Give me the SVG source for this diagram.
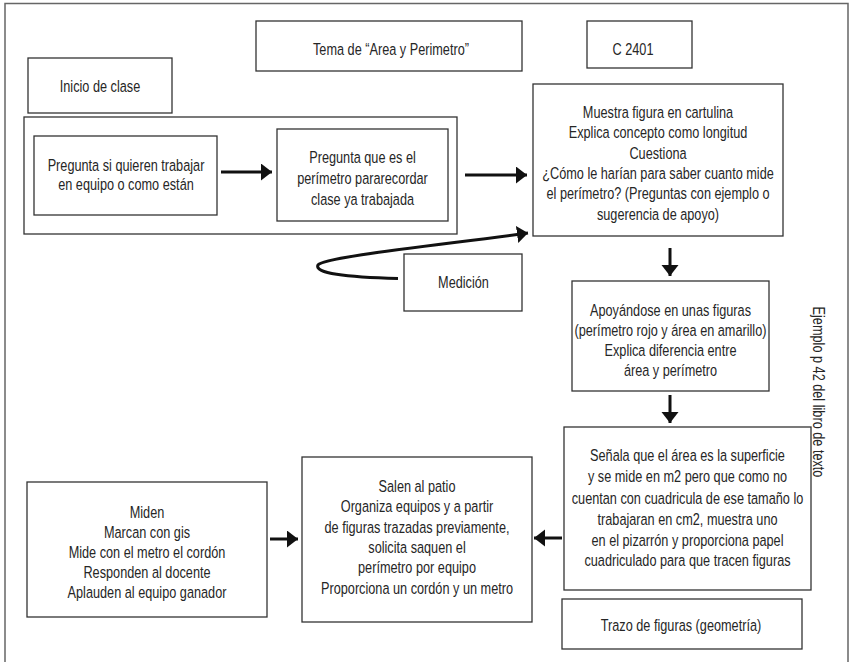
<svg xmlns="http://www.w3.org/2000/svg" width="851" height="662" viewBox="0 0 851 662">
<defs>
<style>
.box{fill:#fff;stroke:#333;stroke-width:1.3}
.t{font-family:"Liberation Sans",Arial,sans-serif;font-size:16.5px;fill:#262626;text-anchor:middle}
.c{fill:none;stroke:#111;stroke-width:3}
</style>
<marker id="ah" markerUnits="userSpaceOnUse" markerWidth="12" markerHeight="18" refX="11" refY="8.5" orient="auto" viewBox="0 0 12 18">
<path d="M0,0 L11,8.5 L0,17 z" fill="#111"/>
</marker>
</defs>
<rect width="851" height="662" fill="#fff"/>
<path d="M5,662 V3.5 H848 V662" fill="none" stroke="#666" stroke-width="1.5"/>

<g id="tema"><rect class="box" x="256" y="21" width="266" height="50"/><text class="t" transform="translate(391,55) scale(.77,1)">Tema de “Area y Perimetro”</text></g>
<g id="c2401"><rect class="box" x="587" y="21" width="105" height="47"/><text class="t" transform="translate(633,55) scale(.77,1)">C 2401</text></g>
<g id="inicio"><rect class="box" x="28" y="58" width="144" height="55"/><text class="t" transform="translate(100,92) scale(.77,1)">Inicio de clase</text></g>
<g id="grupo"><rect class="box" x="24" y="117" width="433" height="117"/></g>
<g id="pregunta1"><rect class="box" x="34" y="136" width="183" height="79"/>
<text class="t" transform="translate(126,171) scale(.77,1)">Pregunta si quieren trabajar</text>
<text class="t" transform="translate(126,190) scale(.77,1)">en equipo o como están</text></g>
<g id="pregunta2"><rect class="box" x="277" y="129" width="171" height="92"/>
<text class="t" transform="translate(362.5,163) scale(.77,1)">Pregunta que es el</text>
<text class="t" transform="translate(362.5,184) scale(.77,1)">perímetro pararecordar</text>
<text class="t" transform="translate(362.5,205) scale(.77,1)">clase ya trabajada</text></g>
<g id="muestra"><rect class="box" x="533" y="84" width="250" height="152"/>
<text class="t" transform="translate(658,118) scale(.77,1)">Muestra figura en cartulina</text>
<text class="t" transform="translate(658,138.3) scale(.77,1)">Explica concepto como longitud</text>
<text class="t" transform="translate(658,158.6) scale(.77,1)">Cuestiona</text>
<text class="t" transform="translate(658,179) scale(.77,1)">¿Cómo le harían para saber cuanto mide</text>
<text class="t" transform="translate(658,199.3) scale(.77,1)">el perímetro? (Preguntas con ejemplo o</text>
<text class="t" transform="translate(658,219.6) scale(.77,1)">sugerencia de apoyo)</text></g>
<g id="medicion"><rect class="box" x="404" y="254" width="118" height="57"/><text class="t" transform="translate(463.5,288) scale(.77,1)">Medición</text></g>
<g id="apoyandose"><rect class="box" x="572" y="281" width="197" height="110"/>
<text class="t" transform="translate(670.5,316) scale(.77,1)">Apoyándose en unas figuras</text>
<text class="t" transform="translate(670.5,336) scale(.77,1)">(perímetro rojo y área en amarillo)</text>
<text class="t" transform="translate(670.5,356) scale(.77,1)">Explica diferencia entre</text>
<text class="t" transform="translate(670.5,375.5) scale(.77,1)">área y perímetro</text></g>
<g id="senala"><rect class="box" x="564" y="427" width="247" height="163"/>
<text class="t" transform="translate(687.5,461) scale(.77,1)">Señala que el área es la superficie</text>
<text class="t" transform="translate(687.5,482) scale(.77,1)">y se mide en m2 pero que como no</text>
<text class="t" transform="translate(687.5,503.5) scale(.77,1)">cuentan con cuadricula de ese tamaño lo</text>
<text class="t" transform="translate(687.5,524.5) scale(.77,1)">trabajaran en cm2, muestra uno</text>
<text class="t" transform="translate(687.5,545.5) scale(.77,1)">en el pizarrón y proporciona papel</text>
<text class="t" transform="translate(687.5,566) scale(.77,1)">cuadriculado para que tracen figuras</text></g>
<g id="trazo"><rect class="box" x="562" y="599" width="240" height="50"/><text class="t" transform="translate(681,631) scale(.77,1)">Trazo de figuras (geometría)</text></g>
<g id="salen"><rect class="box" x="302" y="457" width="230" height="165"/>
<text class="t" transform="translate(417,492) scale(.77,1)">Salen al patio</text>
<text class="t" transform="translate(417,512.3) scale(.77,1)">Organiza equipos y a partir</text>
<text class="t" transform="translate(417,532.6) scale(.77,1)">de figuras trazadas previamente,</text>
<text class="t" transform="translate(417,553) scale(.77,1)">solicita saquen el</text>
<text class="t" transform="translate(417,573.3) scale(.77,1)">perímetro por equipo</text>
<text class="t" transform="translate(417,593.6) scale(.77,1)">Proporciona un cordón y un metro</text></g>
<g id="miden"><rect class="box" x="27" y="482" width="240" height="135"/>
<text class="t" transform="translate(147,518) scale(.77,1)">Miden</text>
<text class="t" transform="translate(147,538) scale(.77,1)">Marcan con gis</text>
<text class="t" transform="translate(147,557.5) scale(.77,1)">Mide con el metro el cordón</text>
<text class="t" transform="translate(147,577.5) scale(.77,1)">Responden al docente</text>
<text class="t" transform="translate(147,598) scale(.77,1)">Aplauden al equipo ganador</text></g>
<g id="ejemplo"><text class="t" transform="translate(813,392) rotate(90) scale(.77,1)">Ejemplo p 42 del libro de texto</text></g>

<g id="connectors">
<line class="c" x1="221" y1="172" x2="272" y2="172" marker-end="url(#ah)"/>
<line class="c" x1="465" y1="175" x2="527" y2="175" marker-end="url(#ah)"/>
<line class="c" x1="670" y1="248" x2="670" y2="276" marker-end="url(#ah)"/>
<line class="c" x1="670" y1="395" x2="670" y2="423" marker-end="url(#ah)"/>
<line class="c" x1="562" y1="538" x2="534" y2="538" marker-end="url(#ah)"/>
<line class="c" x1="270" y1="539" x2="298" y2="539" marker-end="url(#ah)"/>
<path class="c" d="M398,278.5 C345,277 314,273 318,265 C323,257 440,245 528,233" marker-end="url(#ah)"/>
</g>
</svg>
